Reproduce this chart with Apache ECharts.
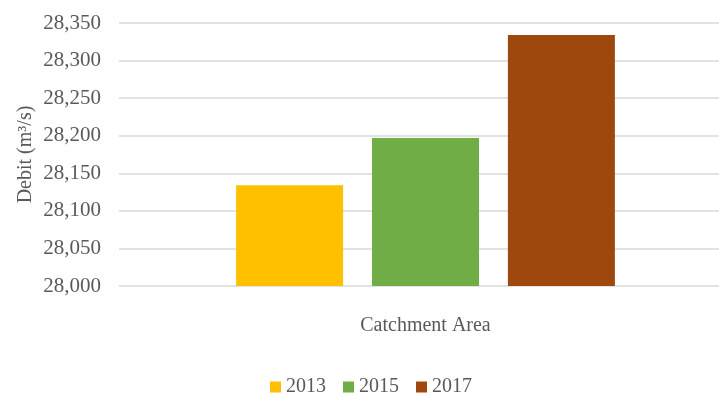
<!DOCTYPE html>
<html>
<head>
<meta charset="utf-8">
<script src="https://cdn.jsdelivr.net/npm/echarts@6/dist/echarts.min.js"></script>
<style>
  html, body { margin: 0; padding: 0; background: #fff; }
  #chart { width: 719px; height: 396px; }
</style>
</head>
<body>
<div id="chart"></div>
<script>
// Debit per year for the catchment area
const categories = ['Catchment Area'];
const years = ['2013', '2015', '2017'];
const debit2013 = [28134];
const debit2015 = [28197];
const debit2017 = [28334];
const yTicks = { min: 28000, max: 28350, interval: 50 };
const colors = ['#FFC000', '#70AD47', '#9E480E'];

const seriesValues = [debit2013, debit2015, debit2017];
const font = '"Liberation Serif", "Times New Roman", serif';
const textColor = '#595959';

const chart = echarts.init(document.getElementById('chart'), null, { renderer: 'canvas' });
chart.setOption({
  animation: false,
  grid: { left: 119, top: 23, width: 613, height: 263, containLabel: false, outerBoundsMode: 'none' },
  legend: {
    data: years,
    left: 270,
    top: 377,
    padding: 0,
    itemWidth: 11,
    itemHeight: 11,
    itemGap: 17,
    icon: 'rect',
    textStyle: { fontFamily: font, fontSize: 20, color: textColor, padding: [0, 0, 0, 0] }
  },
  xAxis: {
    type: 'category',
    data: categories,
    name: 'Catchment Area',
    nameLocation: 'middle',
    nameGap: 30,
    nameTextStyle: { fontFamily: font, fontSize: 20, color: textColor },
    axisLabel: { show: false },
    axisTick: { show: false },
    axisLine: { show: false }
  },
  yAxis: {
    type: 'value',
    min: yTicks.min,
    max: yTicks.max,
    interval: yTicks.interval,
    name: 'Debit (m³/s)',
    nameLocation: 'middle',
    nameGap: 83,
    nameMoveOverlap: false,
    nameRotate: 90,
    nameTextStyle: { fontFamily: font, fontSize: 20, color: textColor },
    axisLine: { show: false },
    axisTick: { show: false },
    axisLabel: {
      fontFamily: font,
      fontSize: 21,
      color: textColor,
      margin: 18,
      formatter: v => v.toLocaleString('en-US')
    },
    splitLine: { lineStyle: { color: '#D9D9D9', width: 1.5 } }
  },
  series: years.map((y, i) => ({
    name: y,
    type: 'bar',
    data: seriesValues[i],
    barWidth: 107,
    barGap: '27%',
    itemStyle: { color: colors[i] }
  }))
});
</script>
</body>
</html>
